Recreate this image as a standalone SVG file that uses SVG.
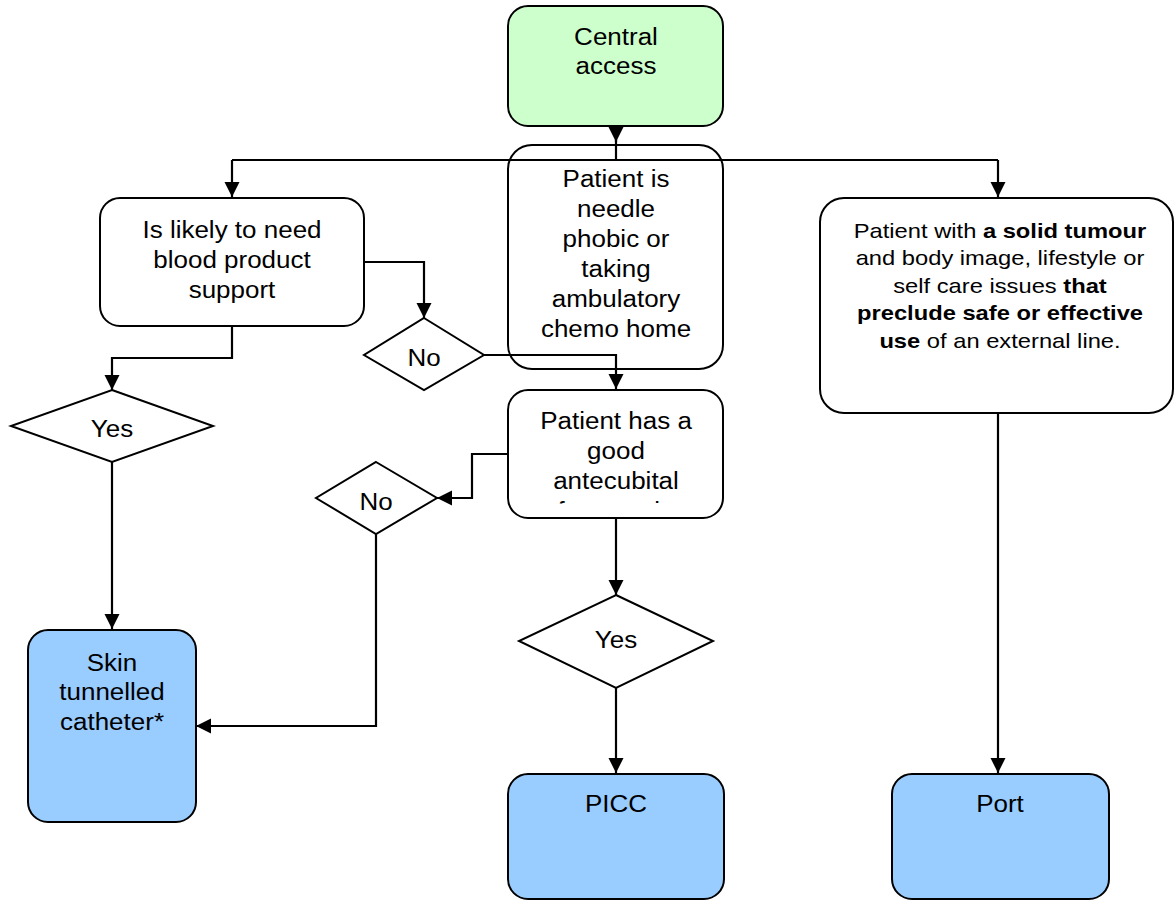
<svg xmlns="http://www.w3.org/2000/svg" width="1174" height="901" viewBox="0 0 1174 901">
<style>
.box{stroke:#000;stroke-width:2}
.plain{fill:none}
.white{fill:#fff}
.green{fill:#CCFFCC}
.blue{fill:#99CCFF}
.conn{fill:none;stroke:#000;stroke-width:2.2}
text{font-family:"Liberation Sans",Arial,sans-serif;font-size:23px;fill:#000;text-anchor:middle}
.small{font-size:21px}
.b{font-weight:bold}
</style>
<defs>
<marker id="arr" markerUnits="userSpaceOnUse" markerWidth="18" markerHeight="18" refX="15" refY="7.5" orient="auto">
<path d="M0,0 L15,7.5 L0,15 z" fill="#000"/>
</marker>
<clipPath id="clipGood"><rect x="508" y="490" width="215" height="13.5"/></clipPath>
</defs>
<rect width="1174" height="901" fill="#fff"/>

<g id="connectors">
<path class="conn" d="M616,126 L616,142" marker-end="url(#arr)"/>
<path class="conn" d="M616,140 L616,160"/>
<path class="conn" d="M232,160 L998,160"/>
<path class="conn" d="M232,160 L232,197" marker-end="url(#arr)"/>
<path class="conn" d="M998,160 L998,197" marker-end="url(#arr)"/>
<path class="conn" d="M364,262 L424,262 L424,318" marker-end="url(#arr)"/>
<path class="conn" d="M484,355 L616,355 L616,389" marker-end="url(#arr)"/>
<path class="conn" d="M232,326 L232,358 L112,358 L112,390" marker-end="url(#arr)"/>
<path class="conn" d="M112,462 L112,629" marker-end="url(#arr)"/>
<path class="conn" d="M508,454 L472,454 L472,498 L437,498" marker-end="url(#arr)"/>
<path class="conn" d="M376,534 L376,726 L196,726" marker-end="url(#arr)"/>
<path class="conn" d="M616,518 L616,595" marker-end="url(#arr)"/>
<path class="conn" d="M616,688 L616,773" marker-end="url(#arr)"/>
<path class="conn" d="M998,413 L998,773" marker-end="url(#arr)"/>
</g>

<g id="central">
<rect class="box green" x="508" y="6" width="215" height="120" rx="20"/>
<g transform="translate(616,0) scale(1.13,1)">
<text x="0" y="45">Central</text>
<text x="0" y="74">access</text>
</g>
</g>

<g id="needle">
<rect class="box plain" x="508" y="145" width="215" height="224" rx="24"/>
<g transform="translate(616,0) scale(1.13,1)">
<text x="0" y="187">Patient is</text>
<text x="0" y="217">needle</text>
<text x="0" y="247">phobic or</text>
<text x="0" y="277">taking</text>
<text x="0" y="307">ambulatory</text>
<text x="0" y="337">chemo home</text>
</g>
</g>

<g id="blood">
<rect class="box white" x="100" y="198" width="264" height="128" rx="20"/>
<g transform="translate(232,0) scale(1.13,1)">
<text x="0" y="238">Is likely to need</text>
<text x="0" y="268">blood product</text>
<text x="0" y="298">support</text>
</g>
</g>

<g id="solid">
<rect class="box white" x="820" y="198" width="353" height="215" rx="24"/>
<g transform="translate(1000,0) scale(1.13,1)">
<text class="small" x="0" y="238">Patient with <tspan class="b">a solid tumour</tspan></text>
<text class="small" x="0" y="265.5">and body image, lifestyle or</text>
<text class="small" x="0" y="293">self care issues <tspan class="b">that</tspan></text>
<text class="small b" x="0" y="320.5">preclude safe or effective</text>
<text class="small" x="0" y="348"><tspan class="b">use</tspan> of an external line.</text>
</g>
</g>

<g id="no1">
<polygon class="box white" points="424,318 484,355 424,390 364,355"/>
<g transform="translate(424,0) scale(1.13,1)"><text x="0" y="366">No</text></g>
</g>

<g id="yes1">
<polygon class="box white" points="112,390 213,426 112,462 11,426"/>
<g transform="translate(112,0) scale(1.13,1)"><text x="0" y="437">Yes</text></g>
</g>

<g id="good">
<rect class="box white" x="508" y="390" width="215" height="128" rx="20"/>
<g transform="translate(616,0) scale(1.13,1)">
<text x="0" y="429">Patient has a</text>
<text x="0" y="459">good</text>
<text x="0" y="489">antecubital</text>
</g>
<g clip-path="url(#clipGood)">
<g transform="translate(616,0) scale(1.13,1)"><text x="0" y="519">fossa vein</text></g>
</g>
</g>

<g id="no2">
<polygon class="box white" points="376,462 437,498 376,534 316,498"/>
<g transform="translate(376,0) scale(1.13,1)"><text x="0" y="510">No</text></g>
</g>

<g id="yes2">
<polygon class="box white" points="616,595 713,641 616,688 519,641"/>
<g transform="translate(616,0) scale(1.13,1)"><text x="0" y="648">Yes</text></g>
</g>

<g id="skin">
<rect class="box blue" x="28" y="630" width="168" height="192" rx="20"/>
<g transform="translate(112,0) scale(1.13,1)">
<text x="0" y="671">Skin</text>
<text x="0" y="700">tunnelled</text>
<text x="0" y="730">catheter*</text>
</g>
</g>

<g id="picc">
<rect class="box blue" x="508" y="774" width="216" height="125" rx="20"/>
<g transform="translate(616,0) scale(1.13,1)"><text x="0" y="812">PICC</text></g>
</g>

<g id="port">
<rect class="box blue" x="892" y="774" width="217" height="125" rx="20"/>
<g transform="translate(1000,0) scale(1.13,1)"><text x="0" y="812">Port</text></g>
</g>
</svg>
